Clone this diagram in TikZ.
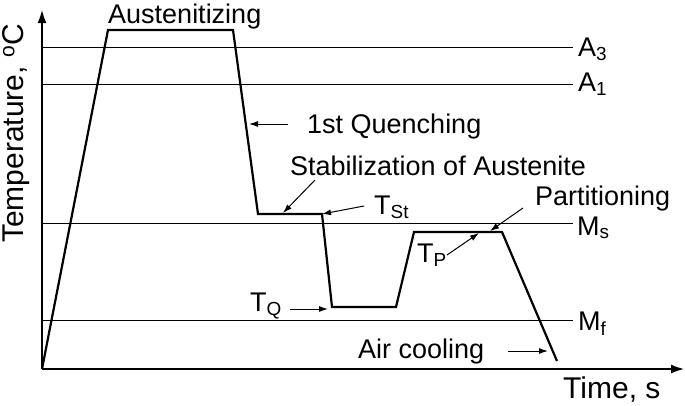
\documentclass[tikz,border=0pt]{standalone}
\usepackage{fontspec}
\setmainfont{Liberation Sans}
\usetikzlibrary{arrows.meta}

\begin{document}
\begin{tikzpicture}[x=1pt, y=-1pt,
  lbl/.style={font=\fontsize{27}{30}\selectfont, inner sep=0pt, anchor=base west},
  axlbl/.style={font=\fontsize{30}{32}\selectfont, inner sep=0pt, anchor=base west},
  level/.style={line width=1pt},
  axis/.style={line width=1.4pt, -{Latex[length=13pt,width=9pt]}},
  route/.style={line width=2.2pt, line join=miter},
  pointer/.style={line width=1pt, -{Latex[length=9pt,width=6pt]}}]
  \useasboundingbox (0,0) rectangle (685,405);

  \coordinate (O) at (42,369);
  \coordinate (ytop) at (42,10);
  \coordinate (xend) at (684,369);
  \draw[axis] (O) -- (ytop);
  \draw[axis] (O) -- (xend);
  \node[axlbl, rotate=90] (temp) at (23.5,243) {Temperature, \textsuperscript{o}C};
  \node[axlbl] (time) at (563,398) {Time, s};

  \node[lbl] (a3) at (578,56) {A\textsubscript{3}};
  \node[lbl] (a1) at (578,91) {A\textsubscript{1}};
  \node[lbl] (ms) at (577,235) {M\textsubscript{s}};
  \node[lbl] (mf) at (578,330) {M\textsubscript{f}};
  \draw[level] (42,47) -- (573,47);
  \draw[level] (42,84) -- (573,84);
  \draw[level] (42,223) -- (573,223);
  \draw[level] (42,320) -- (573,320);

  \draw[route] (O) -- (108,30) -- (233,30) -- (258,214) -- (322,214)
    -- (332,307) -- (396,307) -- (414,232) -- (502,232) -- (557,361);

  \node[lbl] (aust) at (108,23) {Austenitizing};
  \node[lbl] (quench) at (307,133) {1st Quenching};
  \node[lbl] (stab) at (290,175) {Stabilization of Austenite};
  \node[lbl] (tst) at (374,214) {T\textsubscript{St}};
  \node[lbl] (tq) at (250,311) {T\textsubscript{Q}};
  \node[lbl] (tp) at (417,262) {T\textsubscript{P}};
  \node[lbl] (part) at (535,205) {Partitioning};
  \node[lbl] (air) at (358,358) {Air cooling};

  \coordinate (q0) at (288,124);  \coordinate (q1) at (249,124);
  \coordinate (s0) at (315,180);  \coordinate (s1) at (283,213);
  \coordinate (t0) at (364,206);  \coordinate (t1) at (322,214);
  \coordinate (u0) at (290,309);  \coordinate (u1) at (328,309);
  \coordinate (p0) at (447,255);  \coordinate (p1) at (479,233);
  \coordinate (r0) at (523,208);  \coordinate (r1) at (490,231);
  \coordinate (c0) at (508,351);  \coordinate (c1) at (548,351);
  \draw[pointer] (q0) -- (q1);
  \draw[pointer] (s0) -- (s1);
  \draw[pointer] (t0) -- (t1);
  \draw[pointer] (u0) -- (u1);
  \draw[pointer] (p0) -- (p1);
  \draw[pointer] (r0) -- (r1);
  \draw[pointer] (c0) -- (c1);
\end{tikzpicture}
\end{document}
